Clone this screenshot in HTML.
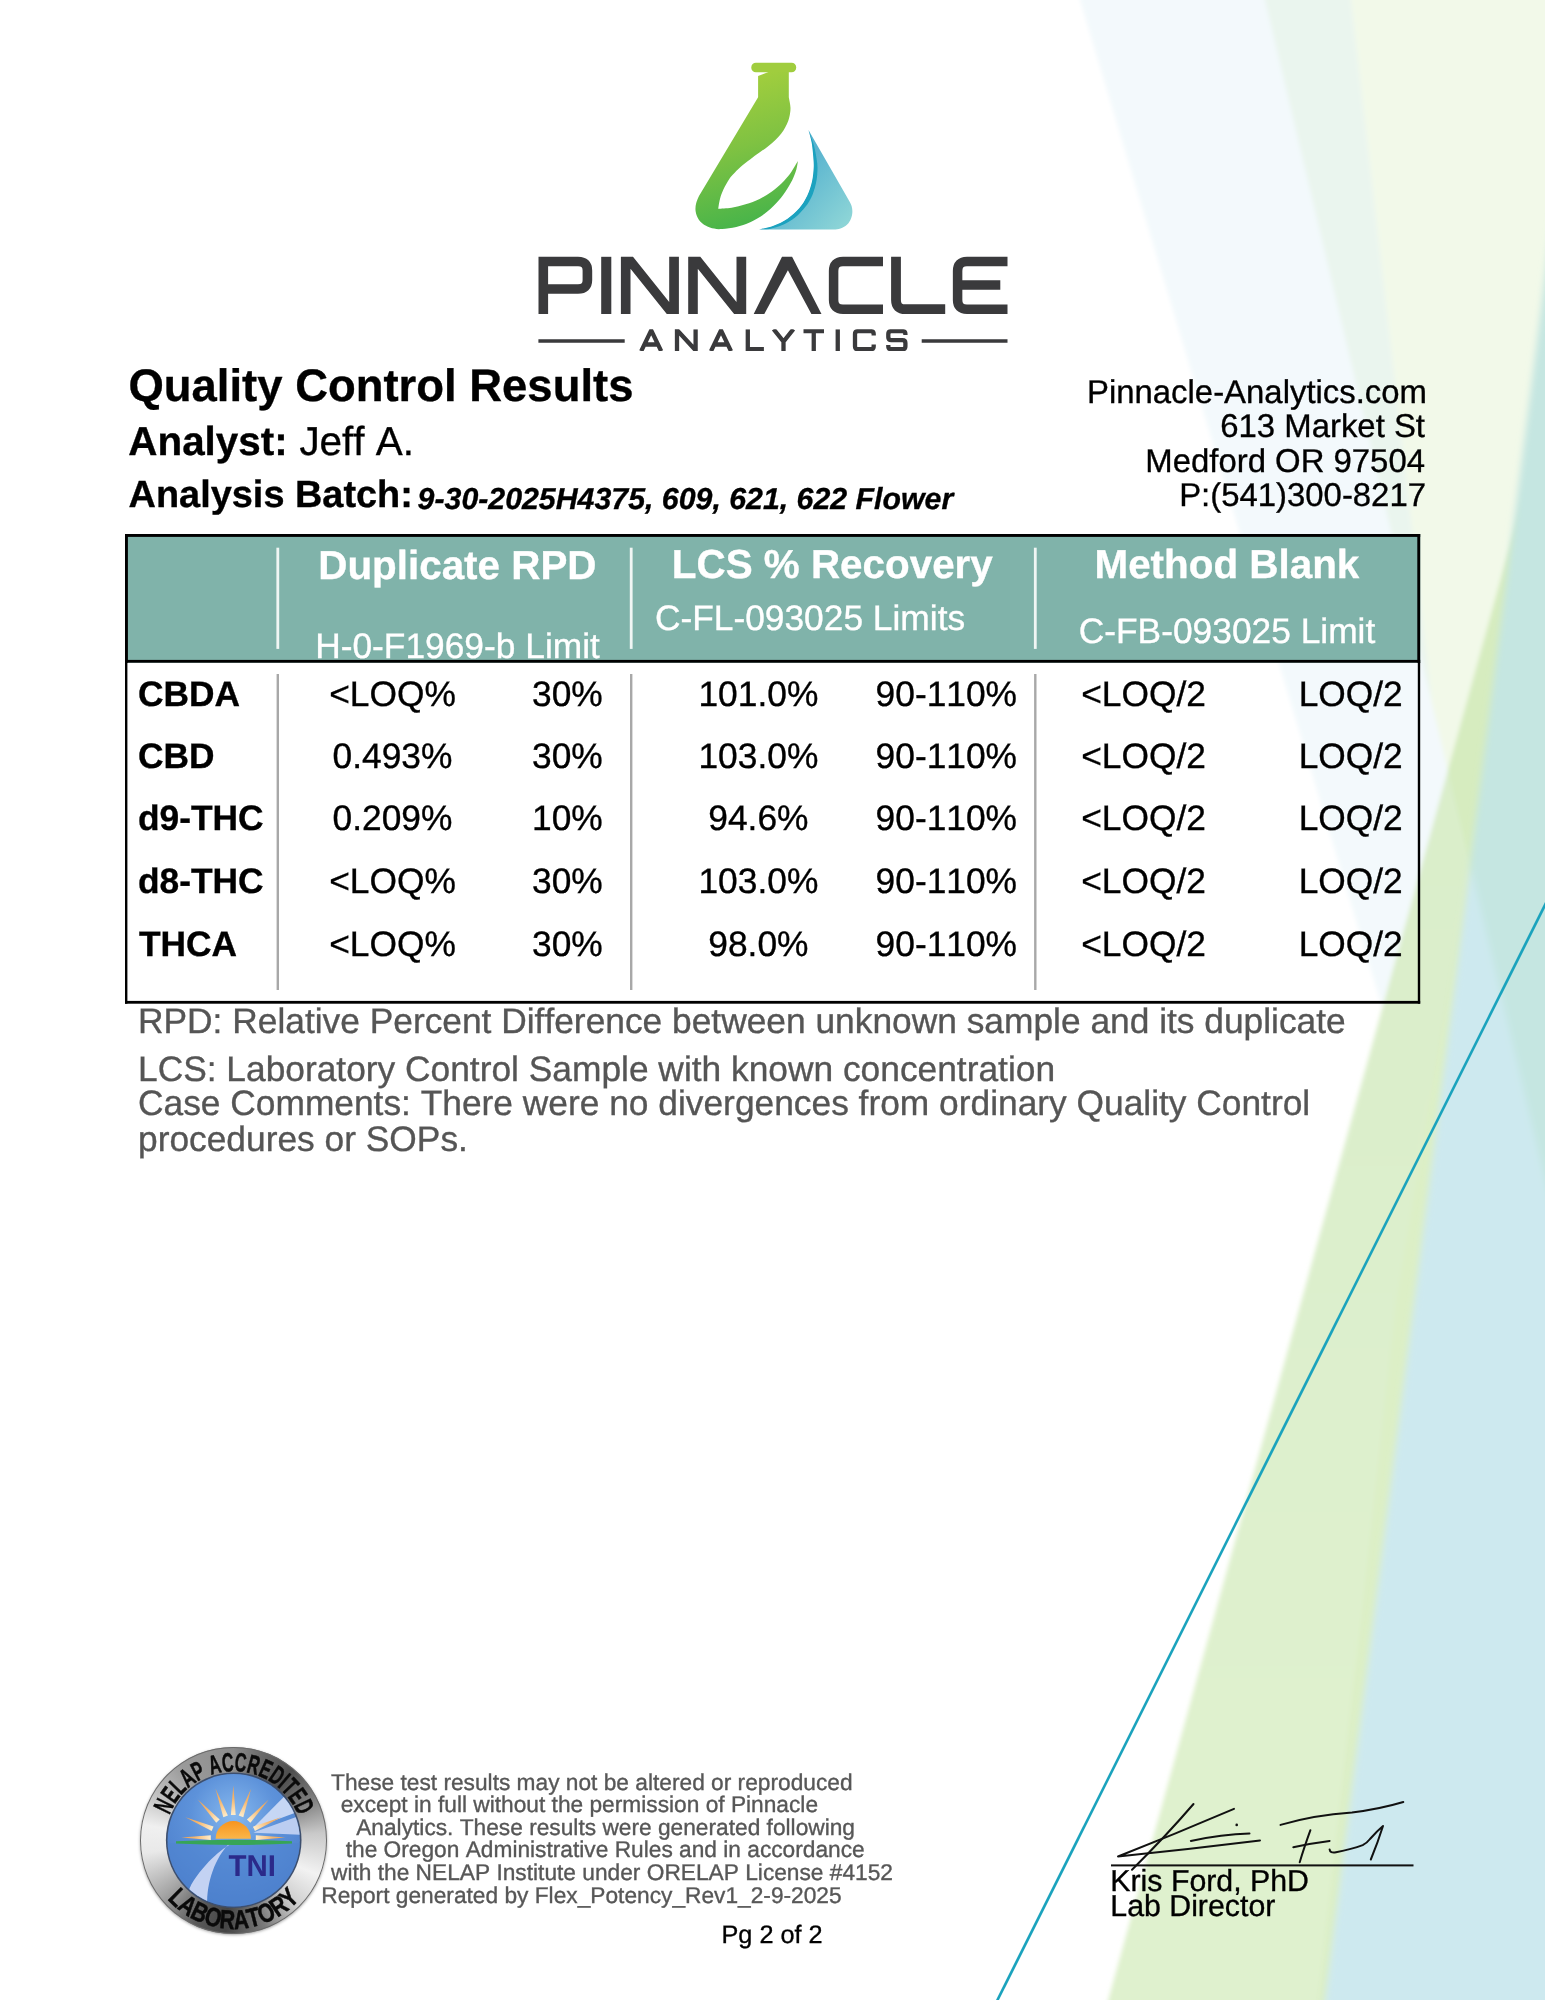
<!DOCTYPE html>
<html>
<head>
<meta charset="utf-8">
<title>Quality Control Results</title>
<style>
html,body{margin:0;padding:0;background:#fff;}
body{font-kerning:none;font-variant-ligatures:none;font-feature-settings:"kern" 0,"liga" 0,"clig" 0;text-rendering:geometricPrecision;width:1545px;height:2000px;position:relative;overflow:hidden;font-family:"Liberation Sans",sans-serif;color:#000;}
.abs{position:absolute;}
.t{position:absolute;line-height:1;white-space:pre;margin:0;padding:0;-webkit-text-stroke:0.35px currentColor;}
.b{font-weight:bold;}
.c{transform:translateX(-50%);}
.r{transform:translateX(-100%);}
#bg{position:absolute;left:0;top:0;width:1545px;height:2000px;}
#page{position:absolute;left:0;top:0;width:1545px;height:2000px;will-change:transform;}
.hd{color:#fff;}
.g{color:#555;}
</style>
</head>
<body>
<svg id="bg" width="1545" height="2000" viewBox="0 0 1545 2000">
<defs>
<filter id="soft" filterUnits="userSpaceOnUse" x="1000" y="-40" width="600" height="2080"><feGaussianBlur stdDeviation="2"/></filter>
<filter id="soft2" filterUnits="userSpaceOnUse" x="1000" y="-40" width="620" height="2080"><feGaussianBlur stdDeviation="3.5"/></filter>
<linearGradient id="g2g" gradientUnits="userSpaceOnUse" x1="0" y1="700" x2="0" y2="1700"><stop offset="0" stop-color="#d9edca"/><stop offset="1" stop-color="#dff1ce"/></linearGradient>
</defs>
<g filter="url(#soft)">
<polygon points="1071.0,-30 1580,-30 1580,1100 1410.0,1100" fill="#f3f9fc"/>
<polygon points="1257.9,-30 1347.5,-30 1431.9,703.2" fill="#eaf5ee"/>
<polygon points="1347.5,-30 1580,-30 1580,1327.4 1431.9,703.2" fill="#f2f9e9"/>
<polygon points="1580,292.6 1100.0,2030 1580,2030" fill="url(#g2g)"/>
<polygon points="1580,292.6 1447.9,770.8 1580,1327.4" fill="#d6ecbf"/>
<polygon points="1469.8,860 1479.5,800 1322.2,2030 1315.2,2030 1396.5,1300" fill="#dcefc6"/>
</g>
<g filter="url(#soft2)">
<polygon points="1580,6.3 1321.2,2030 1580,2030" fill="#cde9ef"/>
<polygon points="1580,6.3 1470.2,864.8 1580,1327.4" fill="#c5e6e1"/>
</g>
<line x1="1550" y1="895" x2="995" y2="2005" stroke="#1ba3bd" stroke-width="2.6"/>
</svg>
<div id="page">
<svg id="logo" class="abs" style="left:0;top:0" width="1545" height="380" viewBox="0 0 1545 380">
<defs>
<linearGradient id="gg" gradientUnits="userSpaceOnUse" x1="745" y1="70" x2="790" y2="225">
<stop offset="0" stop-color="#a5cf3d"/><stop offset="0.45" stop-color="#7fc242"/><stop offset="1" stop-color="#3fb24b"/>
</linearGradient>
<linearGradient id="bb" gradientUnits="userSpaceOnUse" x1="795" y1="170" x2="852" y2="222">
<stop offset="0" stop-color="#58b3cf"/><stop offset="1" stop-color="#8fd6d7"/>
</linearGradient>
<clipPath id="bclip"><path d="M759.0,229.5 C761.4,228.8 768.8,227.5 773.5,225.7 C778.3,223.9 783.3,221.7 787.5,218.7 C791.8,215.8 795.9,212.1 799.2,208.3 C802.5,204.4 805.2,199.9 807.3,195.4 C809.5,191.0 810.9,186.1 812.0,181.5 C813.1,176.8 813.5,171.7 813.7,167.5 C813.9,163.2 813.5,160.0 813.2,155.8 C812.8,151.6 812.4,146.5 811.6,142.2 C810.8,137.9 809.0,132.0 808.5,129.9 L848.1,198.9 C848.7,200.1 850.9,203.6 851.6,205.9 C852.3,208.3 852.5,210.6 852.3,212.9 C852.1,215.2 851.5,217.8 850.4,219.9 C849.4,222.0 847.7,224.2 845.8,225.7 C843.8,227.2 840.9,228.4 838.8,229.0 C836.7,229.6 833.9,229.4 833.0,229.5 Z"/></clipPath><filter id="eblur" x="-20%" y="-20%" width="140%" height="140%"><feGaussianBlur stdDeviation="0.7"/></filter>
</defs>
<rect x="751.3" y="62.7" width="44.9" height="9.6" rx="4.6" fill="#a0cd3e"/>
<path d="M788.8,72.1 L788.8,97.3 C788.9,98.1 789.4,100.3 789.7,102.1 C790.0,103.9 790.5,106.0 790.5,108.0 C790.5,110.0 790.4,111.7 790.0,113.8 C789.6,115.9 789.1,118.6 788.3,120.8 C787.5,123.0 786.5,125.1 785.3,127.2 C784.1,129.3 782.9,131.5 781.3,133.6 C779.6,135.7 777.6,137.9 775.4,140.0 C773.2,142.1 770.6,144.3 767.9,146.4 C765.2,148.5 762.0,150.7 759.1,152.8 C756.2,154.9 753.5,156.8 750.4,159.2 C747.3,161.5 743.4,164.4 740.5,166.9 C737.6,169.4 735.1,172.2 733.2,174.2 C731.3,176.2 730.9,176.6 729.3,179.1 C727.6,181.7 725.0,186.3 723.4,189.6 C721.9,192.9 720.8,195.7 720.0,198.9 C719.1,202.1 718.5,207.2 718.2,208.8 C720.4,208.6 727.0,208.4 731.6,207.7 C736.2,206.9 740.9,205.6 745.6,204.2 C750.2,202.7 755.3,201.0 759.6,198.9 C763.8,196.9 767.5,194.6 771.2,191.9 C774.9,189.3 778.6,186.2 781.7,183.2 C784.8,180.2 787.6,176.8 789.9,173.9 C792.1,171.0 793.7,167.9 795.1,165.7 C796.5,163.6 797.5,161.8 798.0,161.1 C797.7,162.5 797.2,166.6 796.3,169.8 C795.3,173.0 794.0,176.6 792.2,180.3 C790.3,184.0 787.9,188.1 785.2,191.9 C782.5,195.8 779.4,199.9 775.9,203.6 C772.4,207.3 768.5,211.0 764.2,214.1 C760.0,217.2 754.9,220.1 750.2,222.2 C745.6,224.4 740.9,225.8 736.3,226.9 C731.6,228.0 726.0,228.7 722.3,229.0 C718.6,229.3 716.8,229.2 714.1,228.6 C711.4,228.1 708.5,227.2 706.0,225.7 C703.4,224.3 700.7,222.2 699.0,219.9 C697.3,217.6 696.2,214.5 695.7,211.7 C695.2,209.0 695.5,206.2 696.1,203.6 C696.6,201.0 698.5,197.3 699.0,196.0 L758.1,97.3 L758.1,76.1 L768.5,72.1 Z" fill="url(#gg)"/>
<path d="M759.0,229.5 C761.4,228.8 768.8,227.5 773.5,225.7 C778.3,223.9 783.3,221.7 787.5,218.7 C791.8,215.8 795.9,212.1 799.2,208.3 C802.5,204.4 805.2,199.9 807.3,195.4 C809.5,191.0 810.9,186.1 812.0,181.5 C813.1,176.8 813.5,171.7 813.7,167.5 C813.9,163.2 813.5,160.0 813.2,155.8 C812.8,151.6 812.4,146.5 811.6,142.2 C810.8,137.9 809.0,132.0 808.5,129.9 L848.1,198.9 C848.7,200.1 850.9,203.6 851.6,205.9 C852.3,208.3 852.5,210.6 852.3,212.9 C852.1,215.2 851.5,217.8 850.4,219.9 C849.4,222.0 847.7,224.2 845.8,225.7 C843.8,227.2 840.9,228.4 838.8,229.0 C836.7,229.6 833.9,229.4 833.0,229.5 Z" fill="url(#bb)"/>
<g clip-path="url(#bclip)"><path d="M759.0,229.5 C761.4,228.8 768.8,227.5 773.5,225.7 C778.3,223.9 783.3,221.7 787.5,218.7 C791.8,215.8 795.9,212.1 799.2,208.3 C802.5,204.4 805.2,199.9 807.3,195.4 C809.5,191.0 810.9,186.1 812.0,181.5 C813.1,176.8 813.5,171.7 813.7,167.5 C813.9,163.2 813.5,160.0 813.2,155.8 C812.8,151.6 812.4,146.5 811.6,142.2 C810.8,137.9 809.0,132.0 808.5,129.9 L808.5,129.9 C809.3,132.2 812.2,139.1 813.4,143.5 C814.7,147.8 815.4,151.8 816.1,155.8 C816.7,159.8 817.4,163.2 817.5,167.5 C817.5,171.7 817.2,176.8 816.3,181.5 C815.4,186.1 814.1,191.2 812.2,195.4 C810.4,199.7 808.1,203.4 805.2,207.1 C802.4,210.8 798.7,214.7 795.1,217.6 C791.5,220.5 787.8,222.6 783.5,224.6 C779.1,226.5 773.0,228.4 768.9,229.2 C764.8,230.0 760.6,229.4 759.0,229.5 Z" fill="#1aa2bf" filter="url(#eblur)"/></g>
<g fill="#3a3a3c" stroke="none">
<!-- P -->
<path fill="none" stroke="#3a3a3c" stroke-width="9.6" stroke-linejoin="miter" d="M543.3,314 V261.5 H578 Q587.4,261.5 587.4,270.5 V280 Q587.4,289 578,289 H543.3"/>
<!-- I -->
<rect x="601.2" y="256.8" width="10.1" height="57.2"/>
<!-- N -->
<polygon points="620.9,314 620.9,256.8 633,256.8 669.2,301.9 669.2,256.8 678.9,256.8 678.9,314 666.8,314 630.5,268.8 630.5,314"/>
<polygon transform="translate(67.3,0)" points="620.9,314 620.9,256.8 633,256.8 669.2,301.9 669.2,256.8 678.9,256.8 678.9,314 666.8,314 630.5,268.8 630.5,314"/>
<!-- A -->
<polygon points="753.7,314 782,256.8 792.1,256.8 821.5,314 811.4,314 787.9,270.3 764.3,314"/>
<!-- C -->
<path fill="none" stroke="#3a3a3c" stroke-width="9.5" d="M883,261.5 H843 Q833.6,261.5 833.6,271 V300 Q833.6,309.3 843,309.3 H883"/>
<!-- L -->
<path fill="none" stroke="#3a3a3c" stroke-width="9.8" d="M896,256.8 V300 Q896,309.2 905.5,309.2 H945.2"/>
<!-- E -->
<path fill="none" stroke="#3a3a3c" stroke-width="9.5" d="M1007.5,261.5 H967 Q957.6,261.5 957.6,271 V300 Q957.6,309.3 967,309.3 H1007.5 M957.6,285 H1000.3"/>
</g>
<!-- ANALYTICS -->
<clipPath id="aclip"><rect x="530" y="329.2" width="490" height="21.9"/></clipPath>
<g fill="none" stroke="#3a3a3c" stroke-width="4.3" stroke-linejoin="miter" stroke-linecap="butt" clip-path="url(#aclip)">
<path d="M538.4,341 H624.7 M921.7,341 H1007.5" stroke-width="3.4"/>
<path d="M641.2,351.1 L651.2,330.4 L661.2,351.1 M645,344.5 H657.4"/>
<path d="M677,351.1 V330 L695.6,350.3 V329.2"/>
<path d="M711,351.1 L721,330.4 L731,351.1 M714.8,344.5 H727.2"/>
<path d="M747.8,329.2 V349.2 H763.9"/>
<path d="M773.6,329.2 L783.5,341.5 L793.4,329.2 M783.5,341 V351.1"/>
<path d="M803.5,331.1 H824 M813.75,331.1 V351.1"/>
<path d="M837.75,329.2 V351.1"/>
<path d="M873.7,335.5 V334 Q873.7,331.1 870.7,331.1 H858 Q855,331.1 855,334 V346.2 Q855,349.2 858,349.2 H870.7 Q873.7,349.2 873.7,346.2 V344.5"/>
<path d="M905.4,335 V334 Q905.4,331.1 902.4,331.1 H891.3 Q888.3,331.1 888.3,334 V337.2 Q888.3,340.1 891.3,340.1 H902.4 Q905.4,340.1 905.4,343 V346.2 Q905.4,349.2 902.4,349.2 H891.3 Q888.3,349.2 888.3,346.2 V345"/>
</g>
</svg>
<!--HEADER-->
<div class="t b" style="left:128.5px;top:363.0px;font-size:45.45px;">Quality Control Results</div>
<div class="t b" style="left:128.3px;top:421.0px;font-size:40.4px;">Analyst:</div>
<div class="t" style="left:299.4px;top:421.0px;font-size:40.4px;">Jeff A.</div>
<div class="t b" style="left:128.6px;top:477.0px;font-size:37.9px;">Analysis Batch:</div>
<div class="t b" style="left:417.6px;top:485.0px;font-size:30.3px;font-style:italic;">9-30-2025H4375, 609, 621, 622 Flower</div>
<div class="t r" style="left:1427.0px;top:376.0px;font-size:32.9px;">Pinnacle-Analytics.com</div>
<div class="t r" style="left:1425.0px;top:410.0px;font-size:32.9px;">613 Market St</div>
<div class="t r" style="left:1425.0px;top:445.0px;font-size:32.9px;">Medford OR 97504</div>
<div class="t r" style="left:1426.0px;top:479.0px;font-size:32.9px;">P:(541)300-8217</div>
<!--/HEADER-->
<!--TABLE-->
<svg class="abs" style="left:120px;top:530px" width="1306" height="480" viewBox="120 530 1306 480">
<rect x="125" y="534" width="1295.2" height="128.7" fill="#80b3aa"/>
<g fill="#000">
<rect x="125" y="534" width="1295.2" height="2.9"/>
<rect x="125" y="659.9" width="1295.2" height="2.8"/>
<rect x="125" y="534" width="2.9" height="128.7"/>
<rect x="1417.3" y="534" width="2.9" height="128.7"/>
<rect x="125" y="662" width="2.4" height="341.7"/>
<rect x="1417.8" y="662" width="2.4" height="341.7"/>
<rect x="125" y="1000.9" width="1295.2" height="2.8"/>
</g>
<rect x="276.4" y="547.7" width="2.8" height="101.2" fill="#f0f6f4"/><rect x="276.6" y="674" width="2.4" height="316" fill="#a8a8a8"/>
<rect x="629.8" y="547.7" width="2.8" height="101.2" fill="#f0f6f4"/><rect x="630.0" y="674" width="2.4" height="316" fill="#a8a8a8"/>
<rect x="1033.9" y="547.7" width="2.8" height="101.2" fill="#f0f6f4"/><rect x="1034.1" y="674" width="2.4" height="316" fill="#a8a8a8"/>
</svg>
<div class="t b c" style="left:457.4px;top:545.0px;font-size:40.4px;color:#fff;">Duplicate RPD</div>
<div class="t b c" style="left:832.3px;top:544.0px;font-size:40.4px;color:#fff;">LCS % Recovery</div>
<div class="t b c" style="left:1226.9px;top:544.0px;font-size:40.4px;color:#fff;">Method Blank</div>
<div class="t c" style="left:457.5px;top:629.0px;font-size:35.35px;color:#fff;clip-path:inset(0 0 0.0px 0);">H-0-F1969-b Limit</div>
<div class="t c" style="left:810.0px;top:601.0px;font-size:35.35px;color:#fff;">C-FL-093025 Limits</div>
<div class="t c" style="left:1227.0px;top:614.0px;font-size:35.35px;color:#fff;">C-FB-093025 Limit</div>
<div class="t b" style="left:138.0px;top:677.0px;font-size:35.35px;">CBDA</div>
<div class="t c" style="left:392.5px;top:677.0px;font-size:35.35px;">&lt;LOQ%</div>
<div class="t c" style="left:567.4px;top:677.0px;font-size:35.35px;">30%</div>
<div class="t c" style="left:758.4px;top:677.0px;font-size:35.35px;">101.0%</div>
<div class="t c" style="left:946.3px;top:677.0px;font-size:35.35px;">90-110%</div>
<div class="t c" style="left:1143.5px;top:677.0px;font-size:35.35px;">&lt;LOQ/2</div>
<div class="t c" style="left:1350.7px;top:677.0px;font-size:35.35px;">LOQ/2</div>
<div class="t b" style="left:138.0px;top:739.0px;font-size:35.35px;">CBD</div>
<div class="t c" style="left:392.5px;top:739.0px;font-size:35.35px;">0.493%</div>
<div class="t c" style="left:567.4px;top:739.0px;font-size:35.35px;">30%</div>
<div class="t c" style="left:758.4px;top:739.0px;font-size:35.35px;">103.0%</div>
<div class="t c" style="left:946.3px;top:739.0px;font-size:35.35px;">90-110%</div>
<div class="t c" style="left:1143.5px;top:739.0px;font-size:35.35px;">&lt;LOQ/2</div>
<div class="t c" style="left:1350.7px;top:739.0px;font-size:35.35px;">LOQ/2</div>
<div class="t b" style="left:138.0px;top:801.0px;font-size:35.35px;">d9-THC</div>
<div class="t c" style="left:392.5px;top:801.0px;font-size:35.35px;">0.209%</div>
<div class="t c" style="left:567.4px;top:801.0px;font-size:35.35px;">10%</div>
<div class="t c" style="left:758.4px;top:801.0px;font-size:35.35px;">94.6%</div>
<div class="t c" style="left:946.3px;top:801.0px;font-size:35.35px;">90-110%</div>
<div class="t c" style="left:1143.5px;top:801.0px;font-size:35.35px;">&lt;LOQ/2</div>
<div class="t c" style="left:1350.7px;top:801.0px;font-size:35.35px;">LOQ/2</div>
<div class="t b" style="left:138.0px;top:864.0px;font-size:35.35px;">d8-THC</div>
<div class="t c" style="left:392.5px;top:864.0px;font-size:35.35px;">&lt;LOQ%</div>
<div class="t c" style="left:567.4px;top:864.0px;font-size:35.35px;">30%</div>
<div class="t c" style="left:758.4px;top:864.0px;font-size:35.35px;">103.0%</div>
<div class="t c" style="left:946.3px;top:864.0px;font-size:35.35px;">90-110%</div>
<div class="t c" style="left:1143.5px;top:864.0px;font-size:35.35px;">&lt;LOQ/2</div>
<div class="t c" style="left:1350.7px;top:864.0px;font-size:35.35px;">LOQ/2</div>
<div class="t b" style="left:139.0px;top:927.0px;font-size:35.35px;">THCA</div>
<div class="t c" style="left:392.5px;top:927.0px;font-size:35.35px;">&lt;LOQ%</div>
<div class="t c" style="left:567.4px;top:927.0px;font-size:35.35px;">30%</div>
<div class="t c" style="left:758.4px;top:927.0px;font-size:35.35px;">98.0%</div>
<div class="t c" style="left:946.3px;top:927.0px;font-size:35.35px;">90-110%</div>
<div class="t c" style="left:1143.5px;top:927.0px;font-size:35.35px;">&lt;LOQ/2</div>
<div class="t c" style="left:1350.7px;top:927.0px;font-size:35.35px;">LOQ/2</div>
<!--/TABLE-->
<!--NOTES-->
<div class="t" style="left:138.0px;top:1004.0px;font-size:35.35px;color:#555;">RPD: Relative Percent Difference between unknown sample and its duplicate</div>
<div class="t" style="left:138.0px;top:1052.0px;font-size:35.35px;color:#555;">LCS: Laboratory Control Sample with known concentration</div>
<div class="t" style="left:138.0px;top:1086.0px;font-size:35.35px;color:#555;">Case Comments: There were no divergences from ordinary Quality Control</div>
<div class="t" style="left:138.0px;top:1122.0px;font-size:35.35px;color:#555;">procedures or SOPs.</div>
<!--/NOTES-->
<!--FOOTER-->
<!--BADGE-->
<div class="abs" style="left:140.4px;top:1747.0px;width:186.6px;height:186.6px;border-radius:50%;background:conic-gradient(from 0deg at 50% 50%, #8d8d8d 0deg, #6a6a6a 18deg, #4e4e4e 40deg, #7d7d7d 62deg, #c9c9c9 85deg, #f2f2f2 112deg, #d0d0d0 135deg, #7a7a7a 160deg, #454545 185deg, #5a5a5a 205deg, #a5a5a5 232deg, #e9e9e9 262deg, #f0f0f0 280deg, #c2c2c2 300deg, #9a9a9a 325deg, #8d8d8d 360deg);box-shadow:0 0 0 1px #6b6b6b inset, 0 1px 3px rgba(0,0,0,0.35);"></div>
<svg class="abs" style="left:0;top:1730px" width="360" height="230" viewBox="0 1730 360 230">
<defs>
<radialGradient id="disc" gradientUnits="userSpaceOnUse" cx="233.7" cy="1815.3" r="95">
<stop offset="0" stop-color="#86b8ee"/><stop offset="0.45" stop-color="#5d92da"/><stop offset="1" stop-color="#4a7cc9"/>
</radialGradient>
<linearGradient id="sun" x1="0" y1="0" x2="0" y2="1"><stop offset="0" stop-color="#f7941e"/><stop offset="1" stop-color="#fbb649"/></linearGradient>
<radialGradient id="ray" gradientUnits="userSpaceOnUse" cx="233.3" cy="1837.6" r="52"><stop offset="0.4" stop-color="#fff3d6"/><stop offset="0.75" stop-color="#f6b56a"/><stop offset="1" stop-color="#f0a050"/></radialGradient>
<clipPath id="dclip"><circle cx="233.7" cy="1840.3" r="66.2"/></clipPath>
<path id="arcTop" d="M164.70,1840.30 A69.0,69.0 0 1 1 302.70,1840.30"/>
<path id="arcBot" d="M145.10,1840.30 A88.6,88.6 0 1 0 322.30,1840.30"/>
</defs>
<circle cx="233.7" cy="1840.3" r="67.8" fill="#3d4f6e"/>
<circle cx="233.7" cy="1840.3" r="66.2" fill="url(#disc)"/>
<g clip-path="url(#dclip)">
<path d="M165.5,1843.1 H301.9 V1908.5 H165.5 Z" fill="#4f83d0" opacity="0.55"/>
<!-- light wedges upper right -->
<polygon points="252.3,1828.6 285.2,1795.6 296.0,1812.6" fill="#cfdcf6" opacity="0.92"/>
<polygon points="253.3,1832.6 297.6,1816.4 301.7,1834.9" fill="#c3d3f3" opacity="0.92"/>
<!-- road -->
<path d="M235.3,1842.1 C225.3,1845.6 205.3,1861.6 191.3,1884.6 L187.3,1893.6 L207.3,1905.6 C206.3,1882.6 215.3,1857.6 229.3,1843.6 Z" fill="#c9d6f4" opacity="0.95"/>
<!-- horizon -->
<path d="M176,1841.3 Q233.3,1838.2 292,1841.3 L292,1843.6 Q233.3,1846.2 176,1843.6 Z" fill="#37a556"/>
</g>
<polygon points="210.8,1835.2 181.3,1837.6 210.8,1840.0" fill="url(#ray)"/><polygon points="213.5,1826.6 185.4,1817.3 211.7,1831.0" fill="url(#ray)"/><polygon points="219.7,1819.5 197.8,1799.6 216.2,1822.8" fill="url(#ray)"/><polygon points="227.9,1815.6 215.5,1788.7 223.3,1817.3" fill="url(#ray)"/><polygon points="235.7,1815.1 233.3,1785.6 230.9,1815.1" fill="url(#ray)"/><polygon points="243.3,1817.3 251.1,1788.7 238.7,1815.6" fill="url(#ray)"/><polygon points="250.4,1822.8 268.8,1799.6 246.9,1819.5" fill="url(#ray)"/><polygon points="254.9,1831.0 281.2,1817.3 253.1,1826.6" fill="url(#ray)"/><polygon points="255.8,1840.0 285.3,1837.6 255.8,1835.2" fill="url(#ray)"/>
<path d="M215.60000000000002,1838.8 A17.7,17.7 0 0 1 251.0,1838.8 Z" fill="url(#sun)"/>
<text font-family="Liberation Sans, sans-serif" font-weight="bold" font-size="30" fill="#2b2a8a" x="252.3" y="1876.2" text-anchor="middle" textLength="47.5" lengthAdjust="spacingAndGlyphs">TNI</text>
<text font-family="Liberation Sans, sans-serif" font-weight="bold" font-size="26.5" fill="#0a0a0a" stroke="#0a0a0a" stroke-width="0.5"><textPath href="#arcTop" startOffset="50.2%" text-anchor="middle" textLength="166" lengthAdjust="spacingAndGlyphs">NELAP ACCREDITED</textPath></text>
<text font-family="Liberation Sans, sans-serif" font-weight="bold" font-size="26.5" fill="#0a0a0a" stroke="#0a0a0a" stroke-width="0.5"><textPath href="#arcBot" startOffset="50%" text-anchor="middle" textLength="150" lengthAdjust="spacingAndGlyphs">LABORATORY</textPath></text>
</svg>
<!--/BADGE-->
<!--FTEXT-->
<div class="t" style="left:331.0px;top:1771.0px;font-size:22.72px;color:#575757;">These test results may not be altered or reproduced</div>
<div class="t" style="left:340.7px;top:1793.0px;font-size:22.72px;color:#575757;">except in full without the permission of Pinnacle</div>
<div class="t" style="left:356.2px;top:1816.0px;font-size:22.72px;color:#575757;">Analytics. These results were generated following</div>
<div class="t" style="left:345.7px;top:1838.0px;font-size:22.72px;color:#575757;">the Oregon Administrative Rules and in accordance</div>
<div class="t" style="left:331.0px;top:1861.0px;font-size:22.72px;color:#575757;">with the NELAP Institute under ORELAP License #4152</div>
<div class="t" style="left:321.3px;top:1884.0px;font-size:22.72px;color:#575757;">Report generated by Flex_Potency_Rev1_2-9-2025</div>
<div class="t" style="left:721.5px;top:1923.0px;font-size:25.25px;">Pg 2 of 2</div>
<div class="t" style="left:1110.3px;top:1867.0px;font-size:30.3px;">Kris Ford, PhD</div>
<div class="t" style="left:1110.3px;top:1892.0px;font-size:30.3px;">Lab Director</div>
<!--/FTEXT-->
<!--SIG-->
<svg class="abs" style="left:1090px;top:1790px" width="340" height="90" viewBox="1090 1790 340 90">
<g fill="none" stroke="#111" stroke-width="2" stroke-linecap="round" stroke-linejoin="round">
<path d="M1193.5,1804 Q1166,1836 1132,1869.7"/>
<path d="M1234,1808.8 Q1175,1834 1118,1856.5 Q1190,1849 1260,1840.4"/>
<path d="M1190.8,1840.9 Q1222,1834 1249.5,1833.4"/>
<path d="M1280.5,1824.9 Q1314,1815 1352,1812.5 Q1380,1809 1403.3,1802"/>
<path d="M1310.4,1830.2 Q1304,1848 1299.7,1862.2"/>
<path d="M1293.3,1847.3 Q1312,1843 1329.6,1840.9"/>
<path d="M1329.6,1849.4 Q1330,1853.5 1336,1852.3 Q1352,1849 1362.7,1845.1 Q1367,1843 1370,1839 Q1377,1831 1383,1826 Q1378,1842 1370.8,1859.5"/>
</g>
<circle cx="1236.7" cy="1824.9" r="1.3" fill="#111"/>
<rect x="1111" y="1864.4" width="302.5" height="2" fill="#111"/>
</svg>
<!--/SIG-->
</div>
</body>
</html>
